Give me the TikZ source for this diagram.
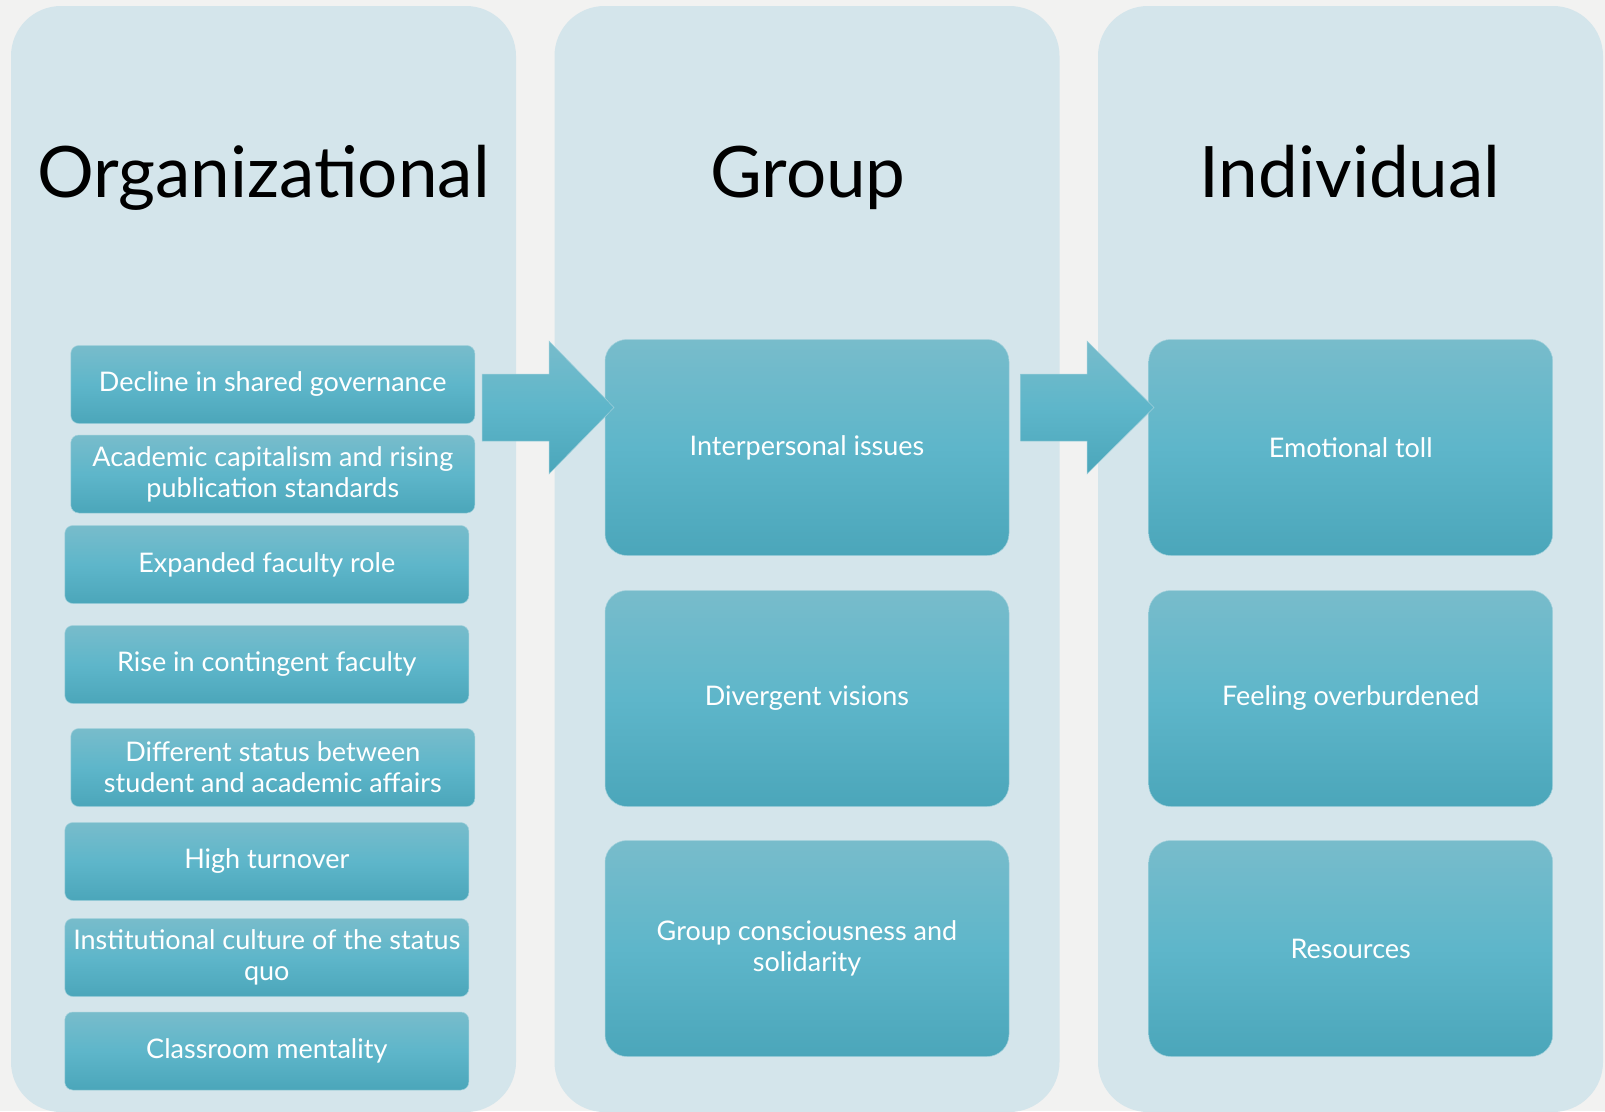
\documentclass[tikz,border=0pt]{standalone}
\usepackage{fontspec}
\setmainfont{Lato}
\definecolor{bg}{HTML}{F2F2F1}
\definecolor{colfill}{HTML}{D4E5EB}
\definecolor{btop}{HTML}{78BCCB}
\definecolor{bmid}{HTML}{5EB6CA}
\definecolor{bbot}{HTML}{4BA6BA}
\begin{document}
\begin{tikzpicture}[x=1pt,y=-1pt,
  column/.style={fill=colfill, rounded corners=50pt, minimum width=505pt, minimum height=1106pt, inner sep=0pt},
  title/.style={anchor=base, font=\fontsize{71}{80}\selectfont, text=black},
  item/.style={rounded corners=8pt, top color=btop, bottom color=bbot, middle color=bmid,
    draw=btop!70!white, line width=0.5pt, text=white, align=center, inner sep=0pt,
    minimum width=404pt, minimum height=78pt, font=\fontsize{27}{31}\selectfont},
  bigitem/.style={item, rounded corners=22pt, minimum height=216pt},
  blockarrow/.style={top color=btop, bottom color=bbot, middle color=bmid, draw=btop!70!white, line width=0.5pt}
]
\useasboundingbox (0,0) rectangle (1605,1111);
\clip (0,0) rectangle (1605,1111);
\fill[bg] (0,0) rectangle (1605,1111);

% columns
\node[column] (c1) at (263.5,559) {};
\node[column] (c2) at (807,559) {};
\node[column] (c3) at (1350.5,559) {};

% titles
\node[title] (t1) at (263.5,197) {Organizational};
\node[title] (t2) at (808,197) {Group};
\node[title] (t3) at (1350,197) {Individual};

% organizational items
\node[item] (o1) at (272.8,384.5) {Decline in shared governance};
\node[item] (o2) at (272.8,474) {Academic capitalism and rising\\publication standards};
\node[item] (o3) at (266.8,564.5) {Expanded faculty role};
\node[item] (o4) at (266.8,664.5) {Rise in contingent faculty};
\node[item] (o5) at (272.8,767.5) {Different status between\\student and academic affairs};
\node[item] (o6) at (266.8,861.5) {High turnover};
\node[item] (o7) at (266.8,957.5) {Institutional culture of the status\\quo};
\node[item] (o8) at (266.8,1051) {Classroom mentality};

% group items
\node[bigitem] (g1) at (807,447.5) {Interpersonal issues};
\node[bigitem] (g2) at (807,698.5) {Divergent visions};
\node[bigitem] (g3) at (807,948.5) {Group consciousness and\\solidarity};

% individual items
\node[bigitem] (i1) at (1350.7,447.5) {Emotional toll};
\node[bigitem] (i2) at (1350.7,698.5) {Feeling overburdened};
\node[bigitem] (i3) at (1350.7,948.5) {Resources};

% block arrows
\coordinate (a1) at (482,407.5);
\coordinate (a2) at (1020.5,407.5);
\path[blockarrow] (a1) ++(0,-33.5) -- ++(67,0) -- ++(0,-33) -- ++(65,66.5) -- ++(-65,66.5) -- ++(0,-33) -- ++(-67,0) -- cycle;
\path[blockarrow] (a2) ++(0,-33.5) -- ++(66.5,0) -- ++(0,-33) -- ++(67,66.5) -- ++(-67,66.5) -- ++(0,-33) -- ++(-66.5,0) -- cycle;
\end{tikzpicture}
\end{document}
